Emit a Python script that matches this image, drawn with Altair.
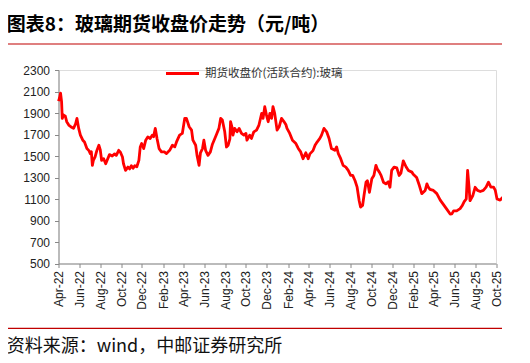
import altair as alt
import pandas as pd

dates = [
    "2022-04-01", "2022-04-04", "2022-04-07", "2022-04-10", "2022-04-12", "2022-04-16", "2022-04-21", "2022-04-25",
    "2022-05-01", "2022-05-08", "2022-05-15", "2022-05-21", "2022-05-25", "2022-05-30", "2022-06-04", "2022-06-11",
    "2022-06-16", "2022-06-23", "2022-06-29", "2022-07-03", "2022-07-06", "2022-07-09", "2022-07-12", "2022-07-17",
    "2022-07-22", "2022-07-28", "2022-08-01", "2022-08-05", "2022-08-11", "2022-08-17", "2022-08-23", "2022-08-28",
    "2022-09-05", "2022-09-12", "2022-09-17", "2022-09-24", "2022-09-29", "2022-10-05", "2022-10-08", "2022-10-14",
    "2022-10-21", "2022-10-26", "2022-10-31", "2022-11-05", "2022-11-10", "2022-11-16", "2022-11-22", "2022-11-26",
    "2022-11-30", "2022-12-06", "2022-12-12", "2022-12-18", "2022-12-25", "2022-12-31", "2023-01-04", "2023-01-09",
    "2023-01-14", "2023-01-20", "2023-01-27", "2023-02-05", "2023-02-10", "2023-02-20", "2023-02-28", "2023-03-07",
    "2023-03-12", "2023-03-21", "2023-03-29", "2023-04-05", "2023-04-10", "2023-04-18", "2023-04-25", "2023-04-29",
    "2023-05-07", "2023-05-11", "2023-05-17", "2023-05-21", "2023-05-27", "2023-05-31", "2023-06-05", "2023-06-12",
    "2023-06-19", "2023-06-25", "2023-07-02", "2023-07-08", "2023-07-14", "2023-07-19", "2023-07-24", "2023-07-31",
    "2023-08-05", "2023-08-10", "2023-08-15", "2023-08-17", "2023-08-21", "2023-08-24", "2023-08-29", "2023-09-05",
    "2023-09-11", "2023-09-18", "2023-09-25", "2023-10-01", "2023-10-04", "2023-10-12", "2023-10-17", "2023-10-24",
    "2023-11-01", "2023-11-08", "2023-11-16", "2023-11-20", "2023-11-25", "2023-11-30", "2023-12-05", "2023-12-10",
    "2023-12-15", "2023-12-19", "2023-12-24", "2023-12-31", "2024-01-06", "2024-01-13", "2024-01-20", "2024-01-26",
    "2024-01-29", "2024-02-06", "2024-02-14", "2024-02-24", "2024-03-02", "2024-03-09", "2024-03-16", "2024-03-24",
    "2024-03-31", "2024-04-05", "2024-04-14", "2024-04-20", "2024-04-26", "2024-05-04", "2024-05-09", "2024-05-16",
    "2024-05-24", "2024-05-31", "2024-06-07", "2024-06-17", "2024-06-22", "2024-06-27", "2024-07-04", "2024-07-11",
    "2024-07-19", "2024-07-26", "2024-08-02", "2024-08-08", "2024-08-15", "2024-08-21", "2024-08-27", "2024-08-31",
    "2024-09-06", "2024-09-10", "2024-09-16", "2024-09-20", "2024-09-26", "2024-10-03", "2024-10-09", "2024-10-15",
    "2024-10-19", "2024-10-25", "2024-10-30", "2024-11-06", "2024-11-13", "2024-11-20", "2024-11-25", "2024-11-30",
    "2024-12-07", "2024-12-15", "2024-12-22", "2024-12-27", "2025-01-03", "2025-01-11", "2025-01-18", "2025-01-28",
    "2025-02-01", "2025-02-11", "2025-02-19", "2025-02-26", "2025-03-08", "2025-03-13", "2025-03-17", "2025-03-22",
    "2025-04-01", "2025-04-11", "2025-04-21", "2025-04-30", "2025-05-10", "2025-05-20", "2025-05-25", "2025-05-30",
    "2025-06-08", "2025-06-18", "2025-06-24", "2025-06-30", "2025-07-06", "2025-07-10", "2025-07-14", "2025-07-17",
    "2025-07-25", "2025-08-01", "2025-08-08", "2025-08-16", "2025-08-25", "2025-09-02", "2025-09-09", "2025-09-16",
    "2025-09-24", "2025-09-29", "2025-10-04", "2025-10-13", "2025-10-21",
]

prices = [
    2010, 2040, 2085, 2006, 1850, 1881, 1870, 1819,
    1788, 1770, 1757, 1800, 1850, 1757, 1694, 1647,
    1630, 1569, 1550, 1522, 1540, 1413, 1460, 1491,
    1550, 1600, 1560, 1460, 1475, 1428, 1475, 1513,
    1500, 1520, 1506, 1553, 1535, 1491, 1428, 1366,
    1397, 1380, 1410, 1385, 1410, 1400, 1460, 1584,
    1616, 1569, 1647, 1678, 1663, 1694, 1680, 1757,
    1663, 1569, 1538, 1538, 1522, 1553, 1600, 1585,
    1631, 1694, 1710, 1850, 1850, 1772, 1741, 1647,
    1600, 1506, 1413, 1530, 1569, 1647, 1553, 1506,
    1538, 1610, 1663, 1710, 1757, 1850, 1835, 1725,
    1584, 1600, 1660, 1819, 1772, 1694, 1757, 1725,
    1757, 1710, 1694, 1710, 1647, 1694, 1663, 1725,
    1741, 1788, 1897, 1850, 1959, 1880, 1819, 1897,
    1850, 1960, 1897, 1741, 1772, 1850, 1820, 1790,
    1757, 1710, 1647, 1616, 1570, 1538, 1475, 1530,
    1475, 1520, 1550, 1600, 1630, 1663, 1694, 1757,
    1725, 1663, 1569, 1553, 1584, 1522, 1475, 1413,
    1397, 1366, 1319, 1320, 1270, 1210, 1084, 1025,
    1040, 1130, 1256, 1270, 1162, 1288, 1319, 1413,
    1380, 1350, 1320, 1256, 1241, 1260, 1209, 1366,
    1397, 1390, 1319, 1340, 1455, 1400, 1366, 1350,
    1330, 1300, 1225, 1150, 1180, 1241, 1210, 1190,
    1180, 1150, 1090, 1050, 1006, 960, 962, 990,
    990, 1010, 1037, 1075, 1100, 1366, 1220, 1084,
    1130, 1209, 1180, 1170, 1180, 1210, 1256, 1210,
    1210, 1180, 1100, 1090, 1116,
]

series_name = "期货收盘价(活跃合约):玻璃"
y_ticks = [500, 700, 900, 1100, 1300, 1500, 1700, 1900, 2100, 2300]
x_tick_months = [
    (2022, 4), (2022, 6), (2022, 8), (2022, 10), (2022, 12),
    (2023, 2), (2023, 4), (2023, 6), (2023, 8), (2023, 10), (2023, 12),
    (2024, 2), (2024, 4), (2024, 6), (2024, 8), (2024, 10), (2024, 12),
    (2025, 2), (2025, 4), (2025, 6), (2025, 8), (2025, 10),
]
title_text = "图表8：玻璃期货收盘价走势（元/吨）"
source_text = "资料来源：wind，中邮证券研究所"

df = pd.DataFrame({"date": dates, "price": prices, "series": series_name})

W = 437.5
H = 193.5
axis_font = "Liberation Sans"
cjk_font = "Noto Sans CJK SC"

tick_values = [alt.DateTime(year=y, month=m, date=1, utc=True) for (y, m) in x_tick_months]

line = alt.Chart(df).mark_line(strokeWidth=2.8, strokeJoin="round").encode(
    x=alt.X(
        "date:T",
        scale=alt.Scale(
            type="utc",
            domain=[alt.DateTime(year=2022, month=4, date=1, utc=True),
                    alt.DateTime(year=2025, month=10, date=1, utc=True)],
            nice=False,
        ),
        axis=alt.Axis(
            values=tick_values, labelExpr="utcFormat(datum.value, '%b-%y')", labelAngle=-90,
            labelAlign="right", labelBaseline="middle",
            title=None, grid=False, domainColor="#888888", tickColor="#888888",
            tickSize=4, labelPadding=3, labelFont=axis_font, labelFontSize=12,
            labelColor="#222222", labelOverlap=False, labelBound=False, labelFlush=False,
        ),
    ),
    y=alt.Y(
        "price:Q",
        scale=alt.Scale(domain=[500, 2300], nice=False, zero=False),
        axis=alt.Axis(
            values=y_ticks, format="d", title=None, grid=False, domainColor="#888888", tickColor="#888888",
            tickSize=4, labelPadding=5, labelFont=axis_font, labelFontSize=12,
            labelColor="#222222", labelOverlap=False, labelBound=False, labelFlush=False,
        ),
    ),
    color=alt.Color(
        "series:N",
        scale=alt.Scale(range=["#ff0000"]),
        legend=alt.Legend(
            title=None, orient="none", legendX=105.5, legendY=-15, padding=0,
            symbolType="stroke", symbolSize=1089, symbolStrokeWidth=3.2,
            labelFont=cjk_font, labelFontSize=11.5, labelColor="#333333", labelOffset=4,
        ),
    ),
)

one = pd.DataFrame({"k": [0]})

title = alt.Chart(pd.DataFrame({"t": [title_text]})).mark_text(
    align="left", baseline="middle", font=cjk_font, fontSize=19, fontWeight="bold", color="#000000"
).encode(text="t:N", x=alt.value(-51.8), y=alt.value(-45))

source = alt.Chart(pd.DataFrame({"t": [source_text]})).mark_text(
    align="left", baseline="middle", font=cjk_font, fontSize=18, color="#111111"
).encode(text="t:N", x=alt.value(-51.8), y=alt.value(277))

rule_top = alt.Chart(one).mark_rule(color="#d42a2a", strokeWidth=2).encode(
    x=alt.value(-53.5), x2=alt.value(465.5), y=alt.value(-64.3))
rule_mid = alt.Chart(one).mark_rule(color="#c00000", strokeWidth=1.2).encode(
    x=alt.value(-53.5), x2=alt.value(465.5), y=alt.value(-26))
rule_bot = alt.Chart(one).mark_rule(color="#c00000", strokeWidth=1.2).encode(
    x=alt.value(-53.5), x2=alt.value(465.5), y=alt.value(258.3))

chart = alt.layer(line, title, source, rule_top, rule_mid, rule_bot).properties(
    width=W, height=H,
    autosize=alt.AutoSizeParams(type="none"),
    padding={"left": 50.5, "top": 62, "right": 6, "bottom": 99},
).configure_view(stroke=None).configure(background="white")

chart.save("out.html", embed_options={"renderer": "svg", "actions": False})
